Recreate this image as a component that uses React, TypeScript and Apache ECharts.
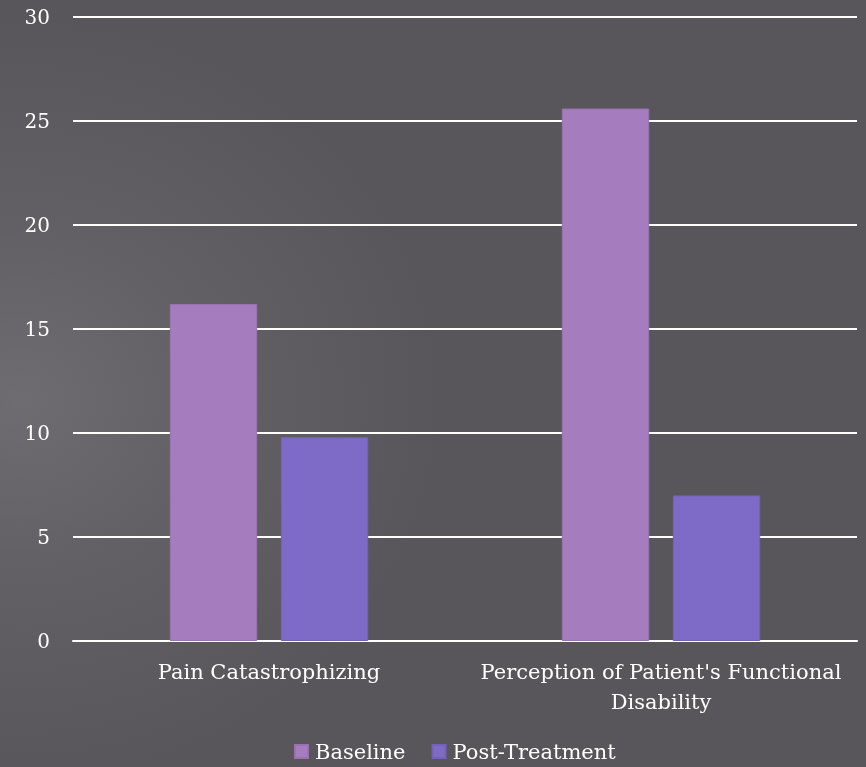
import React, { useEffect, useRef } from "react";
import * as echarts from "echarts";

const categories = ["Pain Catastrophizing", "Perception of Patient's Functional\nDisability"];
const baseline = [16.2, 25.6];
const postTreatment = [9.8, 7.0];
const yTicks = { min: 0, max: 30, interval: 5 };

export default function App() {
  const ref = useRef<HTMLDivElement>(null);
  useEffect(() => {
    if (!ref.current) return;
    const chart = echarts.init(ref.current, undefined, { renderer: "svg" });
    const font = "'DejaVu Serif', 'Liberation Serif', serif";
    chart.setOption({
      animation: false,
      backgroundColor: "transparent",
      textStyle: { fontFamily: font },
      grid: { left: 73, right: 9, top: 17, bottom: 126, containLabel: false },
      legend: {
        bottom: 0,
        left: 289,
        itemWidth: 13,
        itemHeight: 13,
        itemGap: 26,
        icon: "rect",
        textStyle: { color: "#ffffff", fontSize: 21, fontFamily: font, padding: [0, 0, 0, 2] },
        data: ["Baseline", "Post-Treatment"],
      },
      xAxis: {
        type: "category",
        data: categories,
        axisTick: { show: false },
        axisLine: { show: true, lineStyle: { color: "#ffffff", width: 2 } },
        axisLabel: { color: "#ffffff", fontSize: 21, fontFamily: font, margin: 16, lineHeight: 30, interval: 0 },
      },
      yAxis: {
        type: "value",
        min: yTicks.min,
        max: yTicks.max,
        interval: yTicks.interval,
        axisLine: { show: false },
        axisTick: { show: false },
        splitLine: { lineStyle: { color: "#ffffff", width: 2 } },
        axisLabel: { color: "#ffffff", fontSize: 20, fontFamily: font, margin: 23 },
      },
      series: [
        {
          name: "Baseline",
          type: "bar",
          data: baseline,
          barWidth: "22.3%",
          barGap: "27%",
          itemStyle: { color: "#a57cbd", borderColor: "#9a72b0", borderWidth: 1 },
        },
        {
          name: "Post-Treatment",
          type: "bar",
          data: postTreatment,
          barWidth: "22.3%",
          itemStyle: { color: "#7e6ac7", borderColor: "#7462b8", borderWidth: 1 },
        },
      ],
    });
    return () => chart.dispose();
  }, []);
  return (
    <div
      style={{
        position: "fixed",
        left: 0,
        top: 0,
        width: 866,
        height: 767,
        background:
          "radial-gradient(ellipse 420px 380px at 20px 400px, #6e6c70 0%, #626064 45%, #58565a 100%)",
      }}
    >
      <div ref={ref} style={{ width: 866, height: 767 }} />
    </div>
  );
}
